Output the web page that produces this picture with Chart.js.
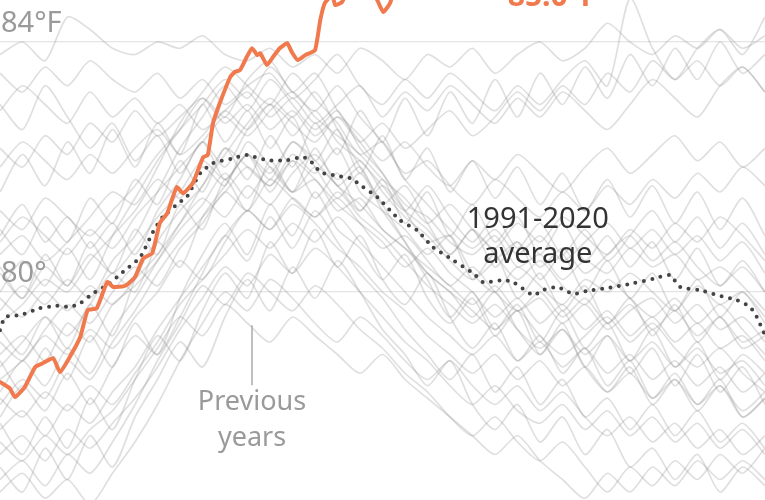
<!DOCTYPE html>
<html>
<head>
<meta charset="utf-8">
<script src="https://cdn.jsdelivr.net/npm/chart.js@4"></script>
<style>
html,body{margin:0;padding:0;background:#fff;}
#wrap{width:765px;height:500px;position:relative;}
</style>
</head>
<body>
<div id="wrap"><canvas id="c"></canvas></div>
<script>
// ---- data (x = day index, y = °F) ----
const yTicks = [80, 84];
const yTickLabels = ['80°', '84°F'];

const grayDays = [0,3,6,9,12,15,18,21,24,27,30,33,36,39,42,45,48,51,54,57,60,63,66,69,72,75,78,81,84,87,90,93,96,99,102];

const yearH1 = [83.8,84.0,83.7,84.4,84.2,83.9,83.8,84.0,83.9,84.1,83.8,83.7,83.9,83.6,83.8,83.5,83.9,83.7,83.4,83.8,83.6,83.9,83.5,83.8,84.0,83.7,83.9,84.3,84.0,83.8,84.1,83.9,84.2,83.9,84.1];
const yearH2 = [83.5,83.2,83.6,83.3,83.7,83.4,83.2,83.5,83.1,83.4,83.0,83.3,83.5,83.1,83.4,83.8,83.3,83.0,83.4,83.1,83.5,83.2,82.9,83.3,83.0,83.4,83.7,83.3,84.7,83.9,83.4,83.7,83.3,83.6,83.2];
const yearH3 = [82.9,83.3,83.0,82.7,83.2,82.8,83.1,82.7,83.0,82.6,82.9,83.2,82.8,83.1,82.7,83.0,83.3,82.8,83.2,82.9,83.3,83.0,82.7,83.1,82.8,83.2,82.9,82.6,83.0,83.4,83.1,82.8,83.3,83.6,83.2];
const yearH4 = [82.3,82.0,82.5,82.2,82.7,82.4,82.9,82.5,82.8,83.1,82.7,83.0,82.6,82.9,82.5,82.8,82.4,82.7,82.3,82.6,82.9,82.5,82.8,83.2,82.9,83.3,83.0,83.5,83.2,83.7,83.4,83.9,84.2,83.8,84.4];
const yearU1 = [82.0,82.4,82.1,81.8,82.2,81.9,82.3,82.6,82.2,82.5,82.9,82.6,83.0,82.7,82.4,82.8,82.5,82.1,82.4,82.0,81.7,82.1,81.8,82.2,81.9,81.6,82.0,82.3,81.9,82.2,82.5,82.1,82.4,82.0,82.3];
const yearU2 = [81.3,81.0,81.5,81.2,80.9,81.3,81.7,82.2,82.6,83.0,83.4,83.1,83.6,83.2,82.9,83.3,82.8,82.4,81.9,82.1,81.7,81.4,81.8,81.5,81.2,81.6,81.3,81.7,81.4,81.8,81.5,81.9,81.6,82.0,81.7];
const yearU3 = [80.8,81.2,80.9,80.6,81.0,80.7,81.2,81.6,82.0,82.4,82.8,82.5,82.9,83.2,82.8,82.5,82.2,81.8,81.5,81.1,81.4,81.0,80.7,81.1,80.8,81.2,80.9,80.6,81.0,80.7,81.1,80.8,81.2,80.9,80.5];
const yearM1 = [79.7,80.1,79.8,80.2,79.9,80.5,80.9,81.6,82.3,82.8,83.3,82.9,83.4,83.0,82.6,82.9,82.3,81.9,81.4,81.2,80.8,80.6,80.9,80.4,80.6,80.2,80.5,80.3,80.7,80.4,80.6,80.2,80.4,80.1,79.7];
const yearM2 = [79.0,79.3,78.9,79.5,79.2,79.8,80.1,80.5,81.0,81.4,81.9,81.5,82.0,81.6,81.8,81.3,81.5,81.0,80.7,80.4,80.1,79.8,80.1,79.7,79.9,79.5,79.8,79.4,79.7,79.9,79.5,79.8,79.4,79.6,79.2];
const yearM3 = [78.8,79.2,79.6,79.3,79.8,80.3,80.0,80.8,81.3,81.7,82.3,82.0,81.7,82.2,81.9,82.3,81.6,81.3,81.0,80.6,80.9,80.3,80.0,80.4,80.1,79.8,80.2,80.0,80.3,80.0,79.7,80.1,79.8,80.0,79.6];
const yearM4 = [79.5,79.8,80.2,80.0,80.5,80.9,81.3,81.8,81.5,82.0,81.7,82.4,82.0,81.6,82.0,81.7,81.3,81.7,81.3,81.0,80.6,81.0,80.6,80.2,80.5,80.1,79.8,80.2,79.9,79.6,79.9,79.5,79.8,79.4,79.0];
const yearM5 = [78.2,78.6,78.3,78.9,78.6,79.2,79.7,80.3,80.8,81.2,81.6,82.0,81.7,82.1,81.8,81.4,81.1,80.8,80.4,80.7,80.3,80.0,79.6,79.9,79.5,79.8,79.4,79.7,79.3,79.6,79.2,79.5,79.1,79.3,78.9];
const yearM6 = [79.9,79.6,80.0,79.7,80.1,79.8,80.2,80.6,81.1,81.5,81.2,81.7,81.4,81.9,82.2,81.8,82.1,81.6,81.2,80.9,80.5,80.2,80.5,80.8,80.4,80.7,80.3,80.6,80.9,80.5,80.8,80.4,80.1,80.4,80.0];
const yearM7 = [78.6,78.9,79.3,79.0,79.4,79.1,79.6,80.0,80.5,80.2,80.8,81.3,81.0,81.5,81.2,81.6,81.2,80.9,80.5,80.1,79.8,79.5,79.8,79.4,79.1,79.4,79.0,79.3,78.9,79.2,78.8,79.1,78.7,78.9,78.5];
const yearM8 = [80.3,79.9,80.4,80.1,80.6,80.3,80.7,81.2,81.6,82.1,81.8,82.2,81.9,82.4,82.1,81.7,81.4,81.0,80.7,80.3,80.0,79.7,79.4,79.7,79.3,79.0,79.3,79.6,79.2,79.5,79.1,78.8,79.1,78.7,78.4];
const yearM9 = [79.2,78.9,79.4,79.8,79.5,80.0,80.4,80.1,80.7,81.1,81.6,81.3,81.8,81.5,81.2,81.5,81.1,80.7,80.9,80.5,80.1,80.4,80.0,79.7,80.0,79.6,79.9,79.5,79.8,79.4,79.7,79.3,79.6,79.2,79.4];
const yearM10 = [80.6,80.9,80.5,80.8,81.2,81.6,81.4,82.0,82.7,83.2,83.6,83.3,83.0,83.5,83.1,82.7,82.2,82.4,81.8,81.4,81.0,80.7,81.0,80.6,80.9,80.5,80.8,81.1,80.7,81.0,80.6,80.9,80.5,80.8,80.3];
const yearL1 = [77.8,78.1,77.7,78.2,77.9,78.4,78.8,79.4,79.9,80.4,80.9,81.3,81.0,81.4,81.1,80.7,80.4,80.0,79.7,79.3,79.0,78.7,79.0,78.6,78.9,78.5,78.8,78.4,78.7,78.3,78.6,78.2,78.5,78.1,78.4];
const yearL2 = [77.4,77.7,77.3,77.8,77.5,77.9,78.3,78.8,79.4,79.9,80.4,80.1,80.6,80.3,80.7,80.4,80.0,79.6,79.2,78.9,78.5,78.2,78.5,78.1,77.9,78.2,77.8,78.1,77.7,78.0,77.6,77.9,77.5,77.8,77.4];
const yearL3 = [77.0,77.3,76.9,77.4,77.1,77.6,78.2,78.9,79.5,80.1,79.8,80.3,80.0,79.7,80.1,79.8,79.4,79.1,78.7,78.4,78.0,77.7,78.0,77.6,77.3,77.6,77.2,76.8,77.2,76.9,77.3,77.0,77.4,77.1,77.5];
const yearL4 = [78.3,78.0,78.4,78.1,78.5,78.2,78.7,79.2,79.8,80.2,80.6,81.0,80.7,81.1,80.8,81.2,80.8,80.4,80.0,79.6,79.3,79.0,79.3,78.9,79.2,78.8,79.1,78.7,79.0,78.6,78.9,78.5,78.8,78.4,78.7];
const yearL5 = [76.8,77.1,76.7,77.0,76.6,77.1,77.6,78.2,78.9,79.5,80.0,79.7,80.2,79.9,79.5,79.2,79.6,79.3,78.9,78.6,78.9,78.5,78.2,78.5,78.1,78.4,78.0,77.7,78.0,77.6,77.9,77.5,77.8,77.4,77.7];
const yearL6 = [77.6,77.3,77.7,77.4,77.8,78.1,78.6,79.1,79.6,79.3,79.8,79.5,79.2,79.6,79.3,79.0,78.7,79.0,78.6,78.3,78.0,77.7,77.4,77.7,77.3,77.0,76.7,77.1,76.8,77.2,76.9,77.3,77.0,77.3,77.0];
const yearN1 = [81.6,82.2,81.7,82.4,81.9,82.6,82.0,82.7,82.2,83.0,82.4,82.9,82.3,82.8,82.1,82.6,81.9,82.5,81.8,82.3,81.6,82.1,81.5,82.0,81.4,81.9,81.3,81.8,81.2,81.7,81.1,81.6,81.0,81.5,80.9];
const yearN2 = [80.4,79.9,80.6,80.1,80.8,80.3,81.0,80.6,81.4,81.0,81.8,81.3,82.1,81.6,82.3,81.7,82.0,81.4,81.7,81.1,80.6,81.0,80.4,80.8,80.2,80.6,80.0,80.5,79.9,80.3,79.7,80.2,79.6,80.0,79.5];
const yearN3 = [78.9,78.4,79.1,78.6,79.3,78.8,79.5,79.0,79.9,80.6,81.1,80.6,81.4,80.9,81.6,81.0,80.7,80.2,80.6,79.9,79.5,79.9,79.3,79.7,79.0,79.5,78.8,79.3,78.7,79.1,78.5,79.0,78.4,78.8,78.2];
const yearN4 = [77.9,77.4,78.0,77.5,78.3,77.8,78.6,79.3,78.9,79.7,80.3,79.9,80.8,80.3,81.0,80.4,80.9,80.2,79.8,80.3,79.6,79.1,79.5,78.9,79.3,78.7,79.1,78.5,78.9,78.3,78.7,78.2,78.6,78.0,78.3];
const yearN5 = [77.2,76.8,77.5,77.0,77.7,77.2,78.0,78.6,79.2,78.8,79.6,80.2,79.7,80.4,79.9,80.5,80.0,79.4,79.0,78.5,78.9,78.2,77.8,78.2,77.6,78.0,77.4,77.8,77.2,77.5,77.0,77.4,76.8,77.2,76.9];
const yearN6 = [81.0,80.6,81.2,80.8,81.5,81.1,81.8,81.4,82.1,81.6,82.3,81.8,82.5,82.0,82.7,82.2,82.9,82.4,83.1,82.5,83.2,82.7,83.4,82.8,83.5,83.0,83.6,83.1,83.8,83.3,83.9,83.4,84.0,83.5,83.8];
const yearN7 = [80.0,80.5,80.1,80.7,80.2,80.9,81.5,82.1,82.6,83.1,82.8,83.4,83.7,83.2,83.5,82.9,82.4,81.9,81.3,80.8,80.9,80.2,80.6,79.9,80.3,79.7,80.1,79.5,79.9,79.3,79.8,79.2,79.6,79.1,79.3];
const yearN8 = [78.4,78.9,78.5,79.1,78.7,79.4,79.9,80.5,81.1,81.7,82.2,82.7,83.1,82.8,83.2,82.6,82.0,81.4,80.8,80.2,79.6,80.0,79.4,79.8,79.2,79.7,79.1,79.5,78.9,79.4,78.8,79.2,78.6,79.0,78.7];
const yearN9 = [83.0,82.6,83.3,82.8,82.3,82.7,82.1,82.5,81.9,82.4,81.8,82.2,81.6,82.1,81.5,81.9,81.3,81.8,81.1,81.6,80.9,81.4,80.8,81.2,80.6,81.1,80.5,80.9,80.4,80.8,80.2,80.7,80.1,80.5,80.0];
const yearN10 = [79.4,79.0,79.6,79.1,79.8,79.3,80.2,80.8,80.4,81.2,81.7,82.2,81.8,82.4,82.0,81.5,81.9,81.3,80.8,80.3,80.0,79.6,80.0,79.4,79.0,79.4,78.8,78.4,78.8,78.2,78.6,78.1,78.5,78.0,78.3];
const yearN11 = [80.9,81.4,80.8,81.2,80.7,81.1,80.6,81.3,81.8,82.4,82.0,82.6,83.0,82.5,82.9,82.4,82.1,81.7,81.3,81.7,81.2,80.8,81.2,80.7,81.1,80.6,81.0,80.5,80.9,81.3,80.8,81.2,80.7,81.1,80.6];
const yearN12 = [78.0,78.5,78.1,78.7,78.2,78.8,79.3,79.0,79.6,80.3,80.9,80.5,81.2,80.7,81.3,80.8,80.3,79.9,79.4,79.0,78.6,79.0,78.4,78.8,78.2,78.6,78.0,78.3,77.8,78.2,77.7,78.1,77.6,77.9,77.5];

const previousYears = [yearH1,yearH2,yearH3,yearH4,yearU1,yearU2,yearU3,yearM1,yearM2,yearM3,yearM4,yearM5,yearM6,yearM7,yearM8,yearM9,yearM10,yearL1,yearL2,yearL3,yearL4,yearL5,yearL6,yearN1,yearN2,yearN3,yearN4,yearN5,yearN6,yearN7,yearN8,yearN9,yearN10,yearN11,yearN12];

const avgDays = [0,0.7,2.7,5.3,7.6,9.3,10.7,12.4,14.3,16.4,18.7,20.4,21.7,24,24.9,26.7,28.4,31.1,32.9,35.6,38.3,40.3,41.3,42.7,44.4,46.7,48.4,50.3,53.3,55.6,57.7,60.4,63.1,64.4,67.1,68.4,71.1,72.4,74.3,76.4,78.3,80.9,84.4,87.1,89.3,90.7,93.3,95.6,98.3,100,100.9,102];
const avgTemps = [79.39,79.6,79.63,79.74,79.78,79.76,79.82,79.98,80.11,80.32,80.56,80.96,81.2,81.44,81.52,81.9,82.06,82.14,82.19,82.11,82.11,82.16,82.11,81.92,81.87,81.82,81.68,81.52,81.15,80.99,80.72,80.51,80.3,80.16,80.19,80.16,79.95,80.03,80.08,79.97,80.02,80.06,80.14,80.21,80.27,80.08,80.03,79.95,79.87,79.76,79.6,79.31];

const thisYearDays = [0,1.3,2,3.3,4.7,5.7,7.1,8,9.3,10.7,11.7,12.9,14.3,15.1,16.7,18,19.1,20.3,21.3,22.3,22.9,23.6,24.4,25.7,27.1,27.7,28.4,29.3,30.7,31.3,32,32.9,33.6,34.3,34.7,35.6,36.4,37.3,38.3,38.9,39.7,40.7,42,42.7,43.3,44.3,44.7,45.6,46.7,48.7,50.3,51.1,52,53.3,57.3,61.3,65.3];
const thisYearTemps = [78.56,78.46,78.32,78.48,78.8,78.86,78.94,78.72,78.96,79.28,79.71,79.74,80.16,80.08,80.1,80.24,80.54,80.62,81.1,81.26,81.47,81.68,81.58,81.74,82.16,82.19,82.7,83.02,83.44,83.52,83.55,83.76,83.9,83.79,83.82,83.63,83.76,83.9,83.98,83.84,83.71,83.79,83.87,84.35,84.62,84.75,84.59,84.64,84.9,84.99,84.67,84.48,84.62,85.07,85.3,85.2,85.0];
const thisYearLabel = '85.0°F';

// ---- chart ----
const pts = (xs, ys) => xs.map((x, i) => ({x, y: ys[i]}));

const datasets = [];
datasets.push({
  data: pts(thisYearDays, thisYearTemps),
  borderColor: '#F07A4E', borderWidth: 4, tension: 0.15,
  pointRadius: 0, borderJoinStyle: 'round', borderCapStyle: 'round', order: 0
});
datasets.push({
  data: pts(avgDays, avgTemps),
  borderColor: '#444', borderWidth: 4, borderDash: [0, 8.5], borderCapStyle: 'round',
  tension: 0.2, pointRadius: 0, order: 1
});
previousYears.forEach(ys => datasets.push({
  data: pts(grayDays, ys),
  borderColor: 'rgba(150,150,150,0.3)', borderWidth: 1.7, tension: 0.25,
  pointRadius: 0, order: 2
}));

const FONT = '"Noto Sans", "Liberation Sans", sans-serif';

const annot = {
  id: 'annot',
  beforeDatasetsDraw(chart) {
    const {ctx, scales: {y}} = chart;
    ctx.save();
    ctx.fillStyle = '#9a9a9a';
    ctx.font = '29px ' + FONT;
    ctx.textAlign = 'left';
    ctx.textBaseline = 'alphabetic';
    yTicks.forEach((v, i) => ctx.fillText(yTickLabels[i], 1, y.getPixelForValue(v) - 10));
    ctx.restore();
  },
  afterDatasetsDraw(chart) {
    const {ctx, scales: {x, y}} = chart;
    ctx.save();
    ctx.textBaseline = 'alphabetic';
    ctx.fillStyle = '#F07A4E';
    ctx.font = 'bold 30px ' + FONT;
    ctx.textAlign = 'left';
    ctx.fillText(thisYearLabel, x.getPixelForValue(67.7), y.getPixelForValue(84.58));
    ctx.fillStyle = '#333';
    ctx.font = '29px ' + FONT;
    ctx.textAlign = 'center';
    ctx.fillText('1991-2020', x.getPixelForValue(71.7), y.getPixelForValue(81.02));
    ctx.fillText('average', x.getPixelForValue(71.7), y.getPixelForValue(80.46));
    const px = x.getPixelForValue(33.6);
    ctx.strokeStyle = '#aaa';
    ctx.lineWidth = 1.5;
    ctx.beginPath();
    ctx.moveTo(px, y.getPixelForValue(79.47));
    ctx.lineTo(px, y.getPixelForValue(78.51));
    ctx.stroke();
    ctx.fillStyle = '#9a9a9a';
    ctx.font = '27px ' + FONT;
    ctx.fillText('Previous', px, y.getPixelForValue(78.11));
    ctx.fillText('years', px, y.getPixelForValue(77.54));
    ctx.restore();
  }
};

new Chart(document.getElementById('c'), {
  type: 'line',
  data: { datasets },
  plugins: [annot],
  options: {
    responsive: true,
    maintainAspectRatio: false,
    animation: false,
    layout: { padding: 0 },
    plugins: { legend: { display: false }, tooltip: { enabled: false } },
    scales: {
      x: { type: 'linear', min: 0, max: 102, display: false },
      y: {
        min: 76.672, max: 84.672,
        afterBuildTicks: s => { s.ticks = yTicks.map(v => ({value: v})); },
        afterFit: s => { s.width = 0; },
        border: { display: false },
        grid: { color: '#e4e4e4', lineWidth: 1.2, drawTicks: false },
        ticks: { display: false }
      }
    }
  }
});
</script>
</body>
</html>
